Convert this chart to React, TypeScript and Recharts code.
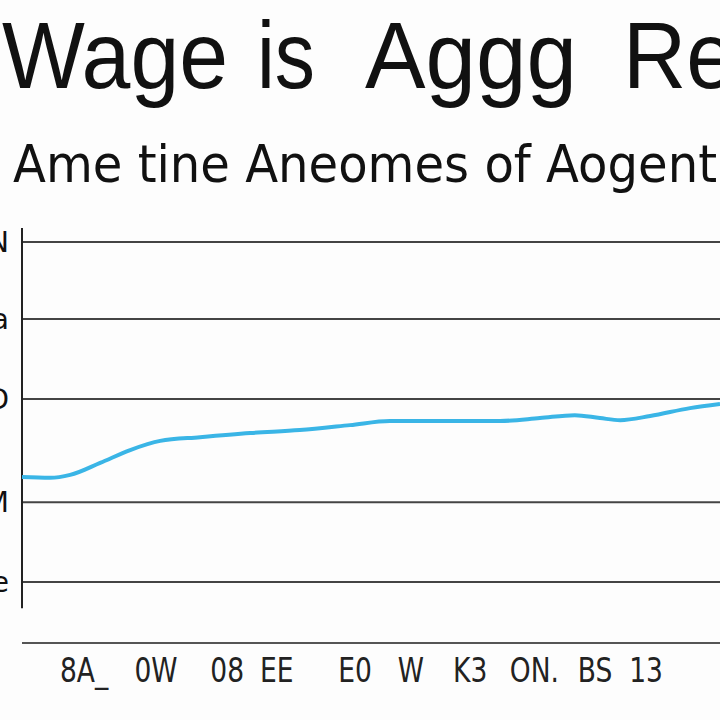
import { LineChart, Line, XAxis, YAxis, ReferenceLine } from "recharts";

// position along the time axis (0–100) and wage level (0–100)
const timePos = [0, 4, 6.9, 11.2, 15.5, 19.8, 25.5, 32.7, 39.8, 47, 52.7, 61.3, 68.5, 74.2, 79.2, 82.8, 85.7, 90, 95.7, 100];
const wage = [40.0, 39.8, 40.5, 43.4, 46.5, 48.7, 49.6, 50.6, 51.3, 52.5, 53.5, 53.5, 53.5, 54.2, 54.9, 54.2, 53.7, 54.7, 56.6, 57.6];

const xTickPos = [8.9, 19.2, 29.4, 36.5, 47.7, 55.7, 64.2, 73.4, 82.1, 89.4];
const xTickLabels = ["8A_", "0W", "08", "EE", "E0", "W", "K3", "ON.", "BS", "13"];

const yTickPos = [14.7, 33.9, 58.8, 78.1, 96.6];
const yTickLabels = ["e", "M", "D", "a", "N"];

const data = timePos.map((t, i) => ({ t, wage: wage[i] }));

const XTick = (props: any) => {
  const { x, y, payload } = props;
  const i = xTickPos.indexOf(payload.value);
  return (
    <text
      transform={`translate(${x},${y + 39}) scale(0.78,1)`}
      textAnchor="middle"
      fontFamily="'DejaVu Sans', sans-serif"
      fontSize={34}
      fill="#222"
    >
      {xTickLabels[i]}
    </text>
  );
};

const YTick = (props: any) => {
  const { y, payload } = props;
  const i = yTickPos.indexOf(payload.value);
  return (
    <text x={9} y={y + 10} textAnchor="end" fontFamily="'DejaVu Sans', sans-serif" fontSize={28} fill="#111">
      {yTickLabels[i]}
    </text>
  );
};

export default function App() {
  return (
    <div style={{ position: "absolute", left: 0, top: 0, width: 720, height: 720, background: "#fdfdfd", overflow: "hidden" }}>
      <svg width={720} height={220} style={{ position: "absolute", left: 0, top: 0 }}>
        <g fontFamily="'Liberation Sans', Arial, sans-serif" fontSize={94} fill="#111">
          <text x={2} y={88} textLength={226} lengthAdjust="spacingAndGlyphs">Wage</text>
          <text x={257} y={88} textLength={58} lengthAdjust="spacingAndGlyphs">is</text>
          <text x={365} y={88} textLength={212} lengthAdjust="spacingAndGlyphs">Aggg</text>
          <text x={623} y={88} textLength={112} lengthAdjust="spacingAndGlyphs">Re</text>
        </g>
        <text
          x={13}
          y={182}
          fontFamily="'DejaVu Sans', sans-serif"
          fontSize={51}
          fill="#111"
          textLength={704}
          lengthAdjust="spacingAndGlyphs"
        >
          Ame tine Aneomes of Aogent
        </text>
      </svg>
      <div style={{ position: "absolute", left: 0, top: 0 }}>
        <LineChart width={720} height={720} data={data} margin={{ top: 228, right: 0, bottom: 27, left: 0 }}>
          <XAxis
            dataKey="t"
            type="number"
            domain={[0, 100]}
            ticks={xTickPos}
            tick={<XTick />}
            tickLine={false}
            tickSize={0}
            tickMargin={0}
            axisLine={{ stroke: "#555", strokeWidth: 2 }}
            height={50}
            interval={0}
          />
          <YAxis
            type="number"
            domain={[0, 100]}
            ticks={yTickPos}
            tick={<YTick />}
            tickLine={false}
            tickSize={0}
            tickMargin={0}
            axisLine={false}
            width={22}
            interval={0}
          />
          {yTickPos.map((v) => (
            <ReferenceLine key={v} y={v} stroke="#444" strokeWidth={2} />
          ))}
          <ReferenceLine
            segment={[
              { x: 0, y: 8.4 },
              { x: 0, y: 100 },
            ]}
            stroke="#222"
            strokeWidth={2}
            ifOverflow="visible"
          />
          <Line
            type="monotone"
            dataKey="wage"
            stroke="#3ab5e6"
            strokeWidth={4}
            dot={false}
            isAnimationActive={false}
          />
        </LineChart>
      </div>
    </div>
  );
}
